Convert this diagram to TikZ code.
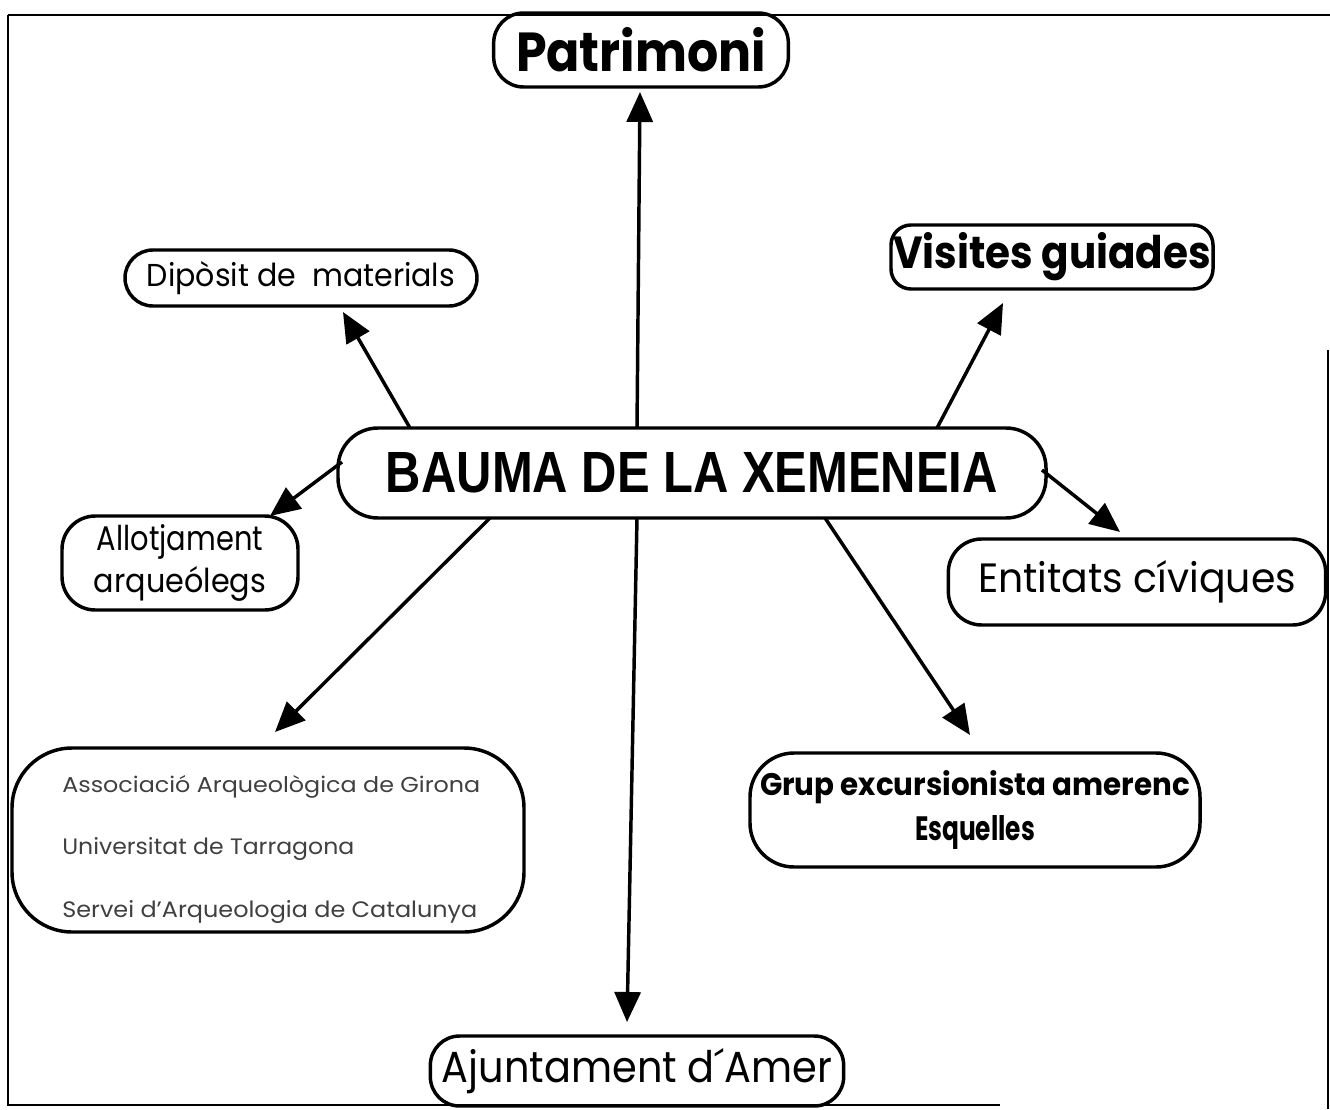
\documentclass[tikz,border=0pt]{standalone}
\usepackage{fontspec}
\usepackage{graphicx}
\setmainfont{Poppins}
\newfontfamily\arialfont{Liberation Sans}
\usetikzlibrary{arrows.meta,calc}
\newlength\px
\setlength\px{0.75pt}
\newcommand\fitt[3]{\resizebox{#1\px}{#2\px}{#3}}
\tikzset{
  bx/.style={draw=black, line width=2.6pt, rectangle, inner sep=0pt, align=center},
  arr/.style={line width=2.6pt, -{Triangle[length=22.5pt,width=19.5pt]}},
  frm/.style={line width=1.5pt}
}
\begin{document}
\begin{tikzpicture}[x=0.75pt,y=-0.75pt]
\useasboundingbox (0,0) rectangle (1330,1109);
% frame
\draw[frm] (8,15) -- (1330,15);
\draw[frm] (8,15) -- (8,1105) -- (1000,1105);
\draw[frm] (1328,350) -- (1328,1109);
% nodes
\node[bx, minimum width=221pt, minimum height=55.5pt, rounded corners=22.5pt] (pat) at (641,50)
  {\fitt{250}{44}{\bfseries Patrimoni}};
\node[bx, minimum width=241.5pt, minimum height=48pt, rounded corners=15pt] (vis) at (1052,257)
  {\fitt{318}{36}{\bfseries Visites guiades}};
\node[bx, minimum width=264pt, minimum height=42pt, rounded corners=21pt] (dip) at (301,278)
  {\fitt{308}{25}{Dipòsit de\ \ materials}};
\node[bx, minimum width=531pt, minimum height=67.5pt, rounded corners=30pt] (cen) at (692,473)
  {\fitt{612}{40}{\arialfont\bfseries BAUMA DE LA XEMENEIA}};
\node[bx, minimum width=177pt, minimum height=70.5pt, rounded corners=25pt] (all) at (180,563)
  {\fitt{166}{26}{Allotjament}\\[4.5pt]\fitt{172}{26}{arqueólegs}};
\node[bx, minimum width=283pt, minimum height=64.5pt, rounded corners=25pt] (ent) at (1137,582)
  {\fitt{318}{32}{Entitats cíviques}};
\node[bx, minimum width=384pt, minimum height=138pt, rounded corners=45pt] (asc) at (268,840) {};
\node[bx, minimum width=337.5pt, minimum height=85.5pt, rounded corners=33pt] (grp) at (975,810)
  {\fitt{430}{25}{\bfseries Grup excursionista amerenc}\\[7.5pt]\fitt{120}{25}{\bfseries Esquelles}};
\node[bx, minimum width=310pt, minimum height=52.5pt, rounded corners=22pt] (ajn) at (637,1071)
  {\fitt{390}{34}{Ajuntament d´Amer}};
% text inside the association box
\node[anchor=base west, inner sep=0pt, text=black!75] (a1) at (62,792)
  {\fitt{418}{17}{Associació Arqueològica de Girona}};
\node[anchor=base west, inner sep=0pt, text=black!75] (a2) at (62,854)
  {\fitt{292}{17}{Universitat de Tarragona}};
\node[anchor=base west, inner sep=0pt, text=black!75] (a3) at (62,917)
  {\fitt{415}{17}{Servei d'Arqueologia de Catalunya}};
% connector end points
\coordinate (s1) at (637,428);  \coordinate (t1) at (640,92);
\coordinate (s2) at (637,518);  \coordinate (t2) at (627,1022);
\coordinate (s3) at (410,428);  \coordinate (t3) at (343,312);
\coordinate (s4) at (937,428);  \coordinate (t4) at (1003,303);
\coordinate (s5) at (342,462);  \coordinate (t5) at (270,516);
\coordinate (s6) at (1042,470); \coordinate (t6) at (1120,532);
\coordinate (s7) at (490,518);  \coordinate (t7) at (275,732);
\coordinate (s8) at (825,518);  \coordinate (t8) at (970,735);
\draw[arr] (s1) -- (t1);
\draw[arr] (s2) -- (t2);
\draw[arr] (s3) -- (t3);
\draw[arr] (s4) -- (t4);
\draw[arr] (s5) -- (t5);
\draw[arr] (s6) -- (t6);
\draw[arr] (s7) -- (t7);
\draw[arr] (s8) -- (t8);
\end{tikzpicture}
\end{document}
